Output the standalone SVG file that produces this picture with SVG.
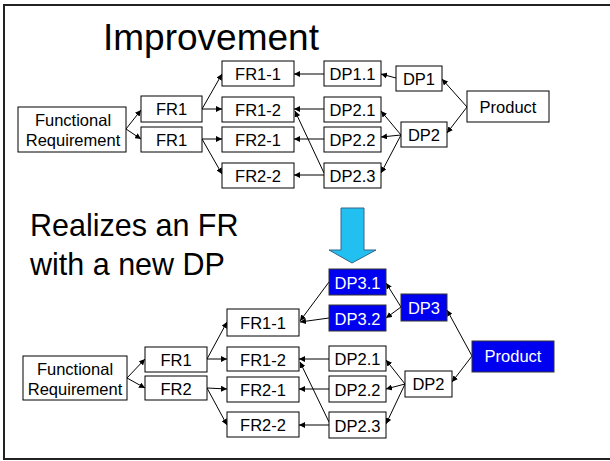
<svg xmlns="http://www.w3.org/2000/svg" width="610" height="461" viewBox="0 0 610 461">
  <style>
    .box { fill: #ffffff; stroke: #000000; stroke-width: 1; }
    .hl { fill: #0000f0; stroke: #333333; stroke-width: 1; }
    .t { font-family: "Liberation Sans", Arial, sans-serif; font-size: 16.5px; fill: #000000; text-anchor: middle; }
    .tw { font-family: "Liberation Sans", Arial, sans-serif; font-size: 16.5px; fill: #ffffff; text-anchor: middle; }
    .head { font-family: "Liberation Sans", Arial, sans-serif; fill: #000000; }
    .edge { fill: none; stroke: #000000; stroke-width: 1; marker-end: url(#arr); }
  </style>
  <defs>
    <marker id="arr" markerUnits="userSpaceOnUse" markerWidth="7" markerHeight="6" refX="6" refY="3" orient="auto">
      <path d="M0,0 L6,3 L0,6 Z" fill="#000000"/>
    </marker>
  </defs>

  <rect x="0" y="0" width="610" height="461" fill="#ffffff"/>
  <!-- frame -->
  <rect x="4" y="5" width="620" height="454" fill="none" stroke="#222222" stroke-width="2"/>

  <!-- headings -->
  <text class="head" x="103" y="50" font-size="37">Improvement</text>
  <text class="head" x="30" y="236" font-size="30.5">Realizes an FR</text>
  <text class="head" x="30" y="275" font-size="30.5">with a new DP</text>

  <!-- down arrow -->
  <path id="down-arrow" d="M341,208 H364 V250 H376 L352,263 L329,250 H341 Z" fill="#22c0f0" stroke="#336688" stroke-width="1"/>

  <!-- connectors -->
  <g id="connectors">
    <!-- upper tree -->
    <line class="edge" x1="126" y1="129" x2="141" y2="110"/>
    <line class="edge" x1="126" y1="129" x2="141" y2="139"/>
    <line class="edge" x1="202" y1="109" x2="222" y2="74"/>
    <line class="edge" x1="202" y1="109" x2="222" y2="109"/>
    <line class="edge" x1="202" y1="139" x2="222" y2="139"/>
    <line class="edge" x1="202" y1="139" x2="222" y2="174"/>
    <line class="edge" x1="324" y1="74" x2="294" y2="74"/>
    <line class="edge" x1="324" y1="109" x2="294" y2="109"/>
    <line class="edge" x1="324" y1="139" x2="294" y2="139"/>
    <line class="edge" x1="324" y1="175" x2="294" y2="175"/>
    <line class="edge" x1="324" y1="173" x2="295" y2="111"/>
    <line class="edge" x1="396" y1="78" x2="381" y2="74"/>
    <line class="edge" x1="467" y1="107" x2="442" y2="79"/>
    <line class="edge" x1="467" y1="107" x2="447" y2="133"/>
    <line class="edge" x1="401" y1="135" x2="381" y2="111"/>
    <line class="edge" x1="401" y1="135" x2="381" y2="137"/>
    <line class="edge" x1="401" y1="135" x2="381" y2="173"/>
    <!-- lower tree -->
    <line class="edge" x1="127" y1="378" x2="145" y2="359"/>
    <line class="edge" x1="127" y1="378" x2="145" y2="388"/>
    <line class="edge" x1="207" y1="359" x2="227" y2="322"/>
    <line class="edge" x1="207" y1="359" x2="227" y2="359"/>
    <line class="edge" x1="207" y1="388" x2="227" y2="389"/>
    <line class="edge" x1="207" y1="388" x2="227" y2="425"/>
    <line class="edge" x1="329" y1="282" x2="300" y2="321"/>
    <line class="edge" x1="329" y1="318" x2="300" y2="322"/>
    <line class="edge" x1="329" y1="359" x2="299" y2="359"/>
    <line class="edge" x1="329" y1="389" x2="299" y2="389"/>
    <line class="edge" x1="329" y1="425" x2="299" y2="425"/>
    <line class="edge" x1="329" y1="422" x2="300" y2="362"/>
    <line class="edge" x1="401" y1="307" x2="386" y2="283"/>
    <line class="edge" x1="401" y1="307" x2="386" y2="318"/>
    <line class="edge" x1="472" y1="356" x2="447" y2="310"/>
    <line class="edge" x1="472" y1="356" x2="452" y2="382"/>
    <line class="edge" x1="405" y1="384" x2="386" y2="360"/>
    <line class="edge" x1="405" y1="384" x2="386" y2="389"/>
    <line class="edge" x1="405" y1="384" x2="386" y2="424"/>
  </g>

  <!-- upper tree nodes -->
  <g id="a-fr"><rect class="box" x="18" y="107" width="108" height="45"/><text class="t" x="73" y="126">Functional</text><text class="t" x="73" y="146">Requirement</text></g>
  <g id="a-fr1"><rect class="box" x="141" y="96" width="61" height="26"/><text class="t" x="171.5" y="115">FR1</text></g>
  <g id="a-fr1b"><rect class="box" x="141" y="127" width="61" height="25"/><text class="t" x="171.5" y="145.5">FR1</text></g>
  <g id="a-fr11"><rect class="box" x="222" y="61" width="72" height="25"/><text class="t" x="258" y="79.5">FR1-1</text></g>
  <g id="a-fr12"><rect class="box" x="222" y="97" width="72" height="25"/><text class="t" x="258" y="115.5">FR1-2</text></g>
  <g id="a-fr21"><rect class="box" x="222" y="127" width="72" height="25"/><text class="t" x="258" y="145.5">FR2-1</text></g>
  <g id="a-fr22"><rect class="box" x="222" y="163" width="72" height="25"/><text class="t" x="258" y="181.5">FR2-2</text></g>
  <g id="a-dp11"><rect class="box" x="324" y="61" width="57" height="25"/><text class="t" x="352.5" y="79.5">DP1.1</text></g>
  <g id="a-dp21"><rect class="box" x="324" y="97" width="57" height="25"/><text class="t" x="352.5" y="115.5">DP2.1</text></g>
  <g id="a-dp22"><rect class="box" x="324" y="127" width="57" height="25"/><text class="t" x="352.5" y="145.5">DP2.2</text></g>
  <g id="a-dp23"><rect class="box" x="324" y="163" width="57" height="25"/><text class="t" x="352.5" y="181.5">DP2.3</text></g>
  <g id="a-dp1"><rect class="box" x="396" y="66" width="46" height="25"/><text class="t" x="419" y="84.5">DP1</text></g>
  <g id="a-dp2"><rect class="box" x="401" y="122" width="46" height="25"/><text class="t" x="424" y="140.5">DP2</text></g>
  <g id="a-product"><rect class="box" x="467" y="91" width="82" height="31"/><text class="t" x="508" y="112.5">Product</text></g>

  <!-- lower tree nodes -->
  <g id="b-fr"><rect class="box" x="23" y="356" width="104" height="44"/><text class="t" x="75" y="374.5">Functional</text><text class="t" x="75" y="394.5">Requirement</text></g>
  <g id="b-fr1"><rect class="box" x="145" y="347" width="62" height="25"/><text class="t" x="176" y="365.5">FR1</text></g>
  <g id="b-fr2"><rect class="box" x="145" y="376" width="62" height="24"/><text class="t" x="176" y="394.5">FR2</text></g>
  <g id="b-fr11"><rect class="box" x="227" y="309" width="72" height="27"/><text class="t" x="263" y="328.5">FR1-1</text></g>
  <g id="b-fr12"><rect class="box" x="227" y="347" width="72" height="24"/><text class="t" x="263" y="365.5">FR1-2</text></g>
  <g id="b-fr21"><rect class="box" x="227" y="377" width="72" height="25"/><text class="t" x="263" y="395.5">FR2-1</text></g>
  <g id="b-fr22"><rect class="box" x="227" y="412" width="72" height="25"/><text class="t" x="263" y="430.5">FR2-2</text></g>
  <g id="b-dp31"><rect class="hl" x="329" y="269" width="57" height="26"/><text class="tw" x="357.5" y="288.5">DP3.1</text></g>
  <g id="b-dp32"><rect class="hl" x="329" y="305" width="57" height="26"/><text class="tw" x="357.5" y="324.5">DP3.2</text></g>
  <g id="b-dp21"><rect class="box" x="329" y="346" width="57" height="25"/><text class="t" x="357.5" y="364.5">DP2.1</text></g>
  <g id="b-dp22"><rect class="box" x="329" y="376" width="57" height="26"/><text class="t" x="357.5" y="395.5">DP2.2</text></g>
  <g id="b-dp23"><rect class="box" x="329" y="412" width="57" height="26"/><text class="t" x="357.5" y="431.5">DP2.3</text></g>
  <g id="b-dp3"><rect class="hl" x="401" y="294" width="46" height="27"/><text class="tw" x="424" y="313.5">DP3</text></g>
  <g id="b-dp2"><rect class="box" x="405" y="371" width="47" height="26"/><text class="t" x="428.5" y="389.5">DP2</text></g>
  <g id="b-product"><rect class="hl" x="472" y="341" width="82" height="31"/><text class="tw" x="513" y="362">Product</text></g>
</svg>
